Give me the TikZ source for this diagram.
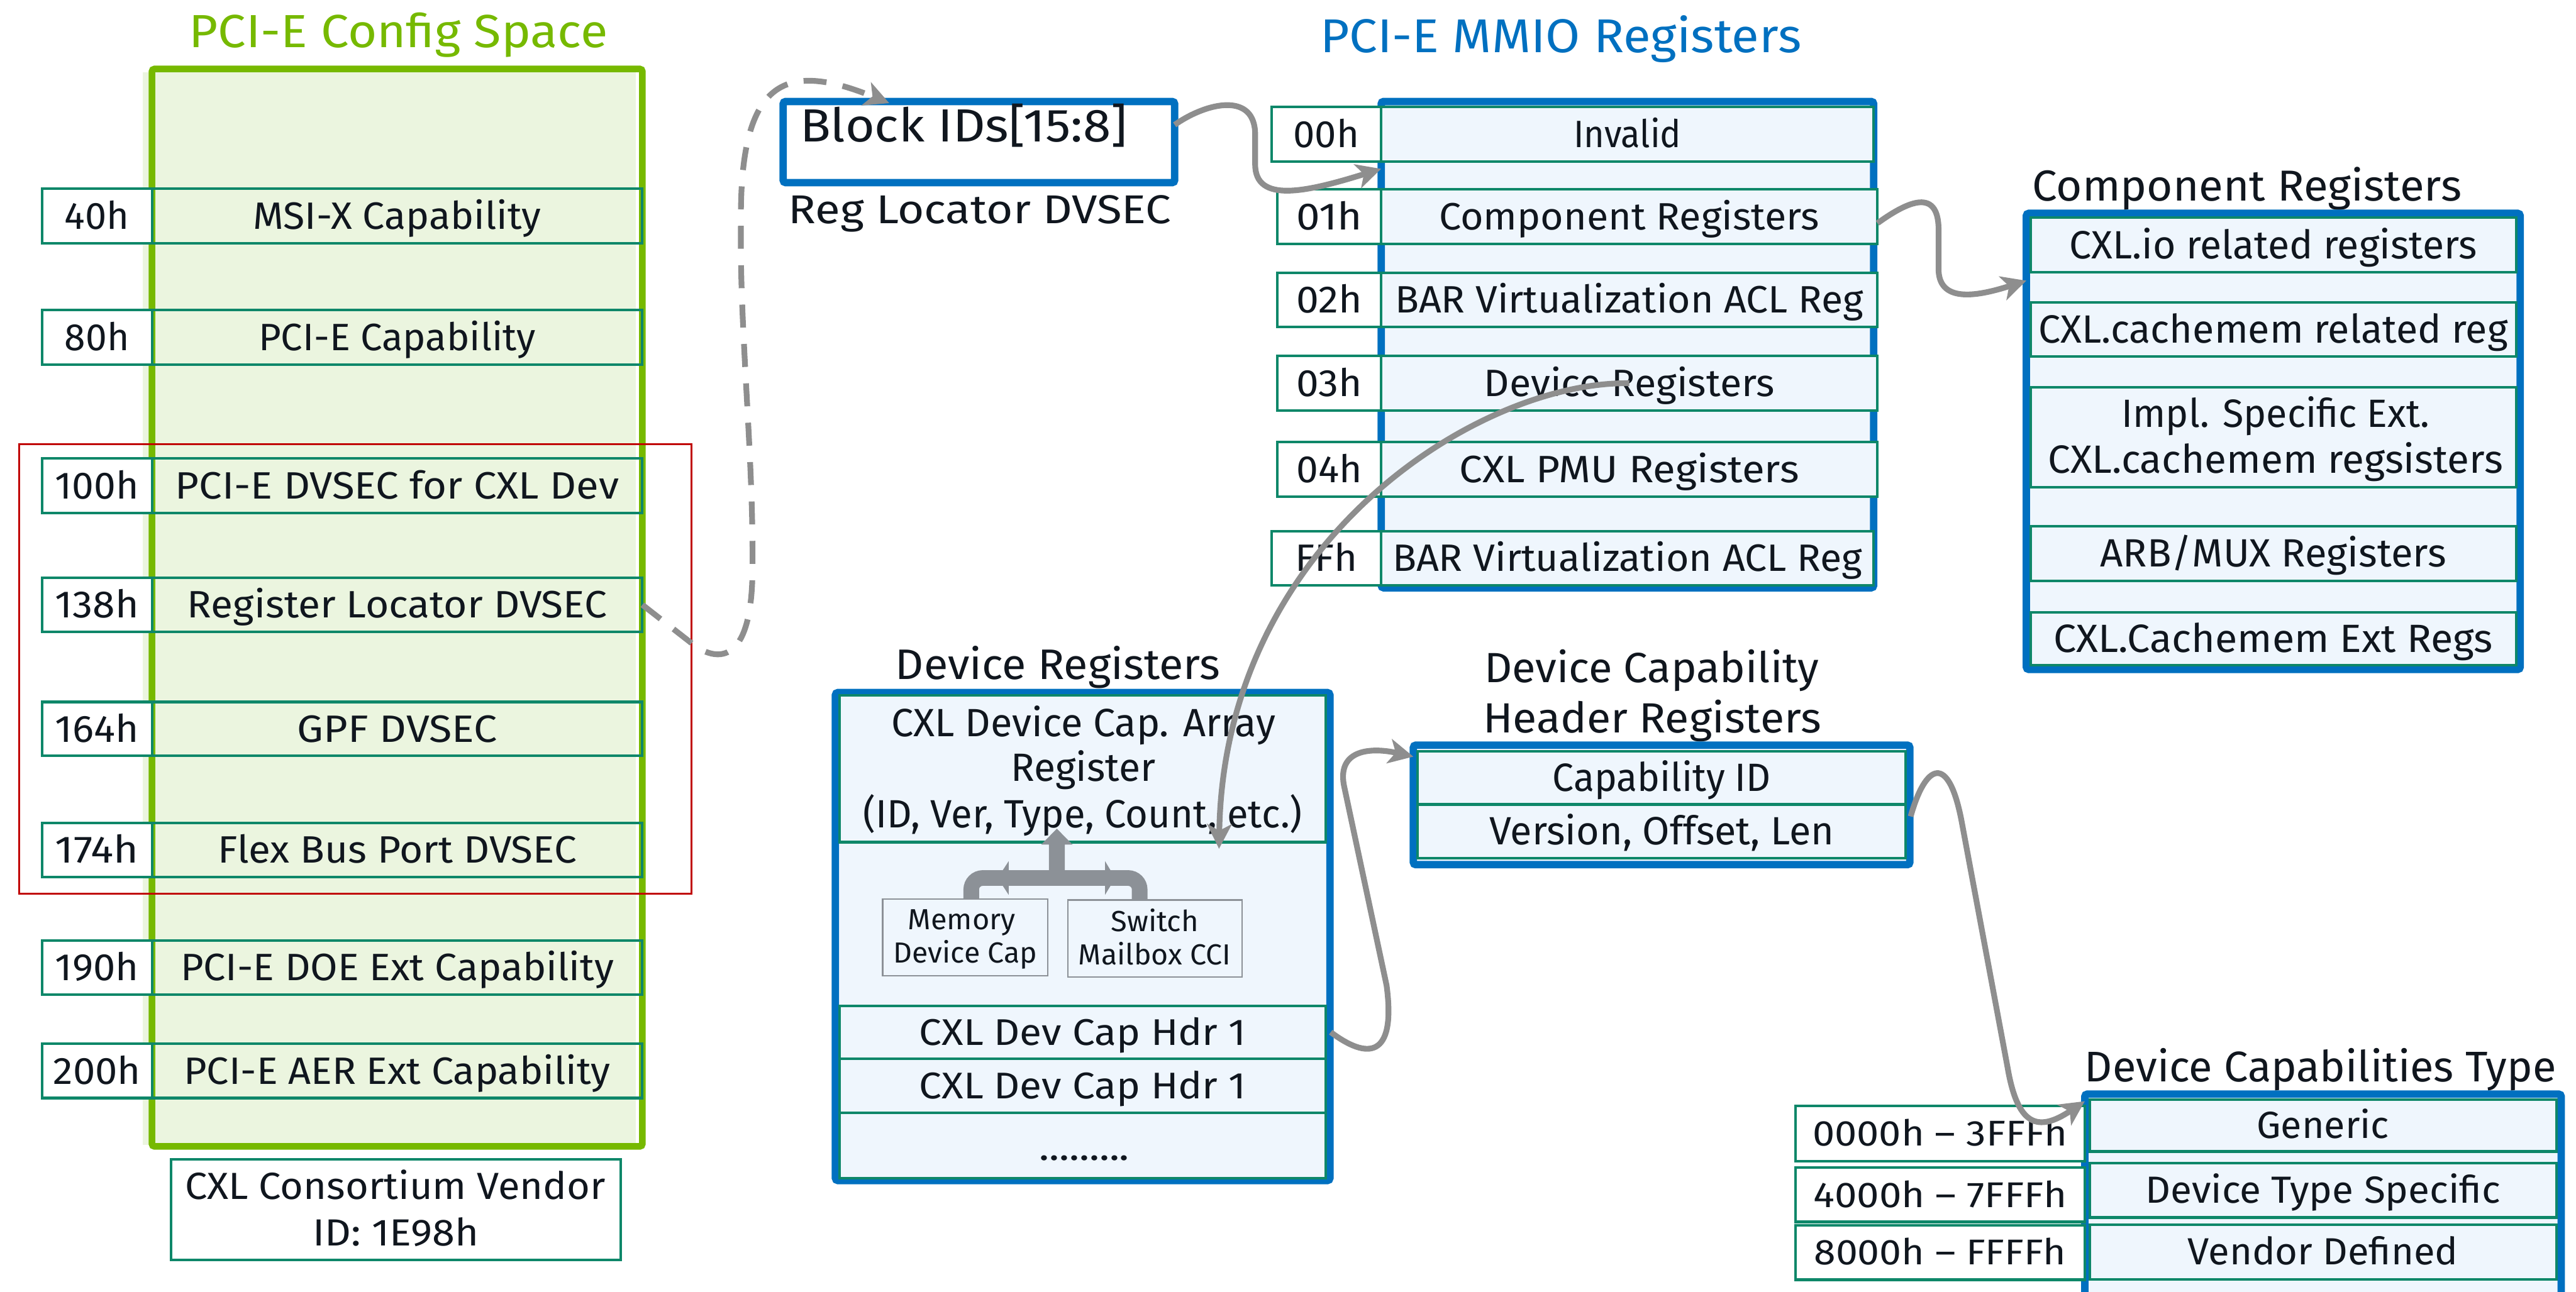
\documentclass[tikz,border=0pt]{standalone}
\usepackage{fontspec}
\usepackage{graphicx}
\setmainfont{Fira Sans}
\usetikzlibrary{arrows.meta,calc}

\definecolor{cfggreen}{RGB}{118,185,0}
\definecolor{cfgfill}{RGB}{235,245,223}
\definecolor{regline}{RGB}{14,135,105}
\definecolor{mmblue}{RGB}{0,112,192}
\definecolor{rowfill}{RGB}{239,246,253}
\definecolor{wire}{RGB}{142,142,142}
\definecolor{barfill}{RGB}{140,145,151}
\definecolor{hilite}{RGB}{192,0,0}
\definecolor{ink}{RGB}{16,22,30}

% font size helper and horizontal fit of a label to a given width
\newcommand\fsz[1]{\fontsize{#1}{#1}\selectfont}
\newcommand\fitw[2]{\resizebox{#1pt}{\height}{#2}}
% rectangular node from its corner coordinates: name, style, x1, y1, x2, y2, text
\newcommand\rbox[7]{\node[#2,minimum width={#5-#3},minimum height={#6-#4}] (#1) at ({(#3+#5)/2},{(#4+#6)/2}) {#7};}

\tikzset{
  every node/.style={inner sep=0pt,outer sep=0pt,text=ink},
  regcell/.style={draw=regline,line width=1.6pt,fill=rowfill},
  cfgcell/.style={draw=regline,line width=1.6pt},
  tagcell/.style={draw=regline,line width=1.6pt,fill=white},
  smallcell/.style={draw=barfill,line width=0.9pt,fill=rowfill},
  outerframe/.style={draw=mmblue,line width=4.5pt,fill=rowfill,rounded corners=1.5pt},
  txtA/.style={font=\fsz{23.2},text height=16pt,text depth=0pt},
  txtB/.style={font=\fsz{24},text height=16.5pt,text depth=0pt},
  txtC/.style={font=\fsz{22.6},text height=15.6pt,text depth=0pt},
  txtD/.style={font=\fsz{23},text height=15.8pt,text depth=0pt},
  txtE/.style={font=\fsz{21.8},text height=15pt,text depth=0pt},
  baseln/.style={anchor=base},
  link/.style={draw=wire,line width=3.5pt,-{Stealth[length=15pt,width=15pt,inset=4pt]}},
}

\begin{document}
\begin{tikzpicture}[x=1pt,y=-1pt]
\useasboundingbox (0,0) rectangle (1568,786.6);

% ---------------- PCI-E configuration space ----------------
\fill[cfgfill] (87,44) rectangle (387,697);
\node[draw=cfggreen,line width=4pt,rounded corners=1.5pt,minimum width=298.5,minimum height=656] (cfg) at (241.75,370) {};
\node[font=\fsz{28.3},text=cfggreen,baseln] (cfgtitle) at (242.5,28.8) {\fitw{255}{PCI-E Config Space}};

\rbox{t40}{tagcell,txtA}{25.6}{114.7}{92.5}{148}{\fitw{39.3}{40h}}
\rbox{c40}{cfgcell,txtA}{92.5}{114.7}{391}{148}{\fitw{175}{MSI-X Capability}}
\rbox{t80}{tagcell,txtA}{25.6}{188.7}{92.5}{222}{\fitw{39.3}{80h}}
\rbox{c80}{cfgcell,txtA}{92.5}{188.7}{391}{222}{\fitw{168.7}{PCI-E Capability}}
\rbox{t100}{tagcell,txtA}{25.6}{279}{92.5}{312.5}{\fitw{50.9}{100h}}
\rbox{c100}{cfgcell,txtA}{92.5}{279}{391}{312.5}{\fitw{269.9}{PCI-E DVSEC for CXL Dev}}
\rbox{t138}{tagcell,txtA}{25.6}{351.8}{92.5}{384.7}{\fitw{50.9}{138h}}
\rbox{c138}{cfgcell,txtA}{92.5}{351.8}{391}{384.7}{\fitw{255.4}{Register Locator DVSEC}}
\rbox{t164}{tagcell,txtA}{25.6}{427.4}{92.5}{460.2}{\fitw{50.9}{164h}}
\rbox{c164}{cfgcell,txtA}{92.5}{427.4}{391}{460.2}{\fitw{121.5}{GPF DVSEC}}
\rbox{t174}{tagcell,txtA}{25.6}{501}{92.5}{534}{\fitw{50.9}{174h}}
\rbox{c174}{cfgcell,txtA}{92.5}{501}{391}{534}{\fitw{218.4}{Flex Bus Port DVSEC}}
\rbox{t190}{tagcell,txtA}{25.6}{572.7}{92.5}{605.5}{\fitw{50.9}{190h}}
\rbox{c190}{cfgcell,txtA}{92.5}{572.7}{391}{605.5}{\fitw{263.7}{PCI-E DOE Ext Capability}}
\rbox{t200}{tagcell,txtA}{25.6}{635.4}{92.5}{668.6}{\fitw{53.3}{200h}}
\rbox{c200}{cfgcell,txtA}{92.5}{635.4}{391}{668.6}{\fitw{259.7}{PCI-E AER Ext Capability}}

\rbox{vid}{tagcell}{104}{706}{377.7}{767}{}
\node[font=\fsz{23},baseln] (vid1) at (240.6,730.3) {\fitw{256}{CXL Consortium Vendor}};
\node[font=\fsz{23},baseln] (vid2) at (240.9,758.4) {\fitw{101}{ID: 1E98h}};

% CXL DVSEC group
\node[draw=hilite,line width=1.2pt,minimum width=409.3,minimum height=273.5] (dvsecs) at (216.35,407.25) {};

% ---------------- Register locator ----------------
\node[draw=mmblue,line width=4.5pt,fill=white,rounded corners=1.5pt,minimum width=238.3,minimum height=49.4] (blk) at (595.85,86.5) {};
\node[font=\fsz{28.3},anchor=base west] (blktxt) at (487,86.5) {\fitw{199}{Block IDs[15:8]}};
\node[font=\fsz{24.5},anchor=base west] (rlname) at (479.9,136) {\fitw{233}{Reg Locator DVSEC}};

% ---------------- PCI-E MMIO registers ----------------
\node[font=\fsz{28.9},text=mmblue,baseln] (mmtitle) at (950,32) {\fitw{292.9}{PCI-E MMIO Registers}};
\node[outerframe,minimum width=299.8,minimum height=296.1] (mmio) at (990.6,209.85) {};
\rbox{m00t}{tagcell,txtA}{774}{65}{840.7}{98.3}{\fitw{40.1}{00h}}
\rbox{m00}{regcell,txtA}{840.7}{65}{1140.5}{98.3}{\fitw{65.5}{Invalid}}
\rbox{m01t}{tagcell,txtA}{777.5}{115.2}{840.7}{148.6}{\fitw{40}{01h}}
\rbox{m01}{regcell,txtA}{840.7}{115.2}{1142.8}{148.6}{\fitw{231.6}{Component Registers}}
\rbox{m02t}{tagcell,txtA}{777.5}{166}{840.7}{199.2}{\fitw{40}{02h}}
\rbox{m02}{regcell,txtA}{840.7}{166}{1142.8}{199.2}{\fitw{285.1}{BAR Virtualization ACL Reg}}
\rbox{m03t}{tagcell,txtA}{777.5}{216.7}{840.7}{250}{\fitw{40}{03h}}
\rbox{m03}{regcell,txtA}{840.7}{216.7}{1142.8}{250}{\fitw{176.9}{Device Registers}}
\rbox{m04t}{tagcell,txtA}{777.5}{269}{840.7}{302.4}{\fitw{40}{04h}}
\rbox{m04}{regcell,txtA}{840.7}{269}{1142.8}{302.4}{\fitw{206.7}{CXL PMU Registers}}
\rbox{mfft}{tagcell,txtA}{774}{323.4}{840.7}{356.3}{\fitw{37.8}{FFh}}
\rbox{mff}{regcell,txtA}{840.7}{323.4}{1140.5}{356.3}{\fitw{286}{BAR Virtualization ACL Reg}}

% ---------------- Component registers ----------------
\node[font=\fsz{26.4},anchor=base west] (cmptitle) at (1237,122.4) {\fitw{261.4}{Component Registers}};
\node[outerframe,minimum width=300.6,minimum height=277.7] (cmp) at (1383.7,268.75) {};
\rbox{k1}{regcell,txtB}{1236}{132.6}{1531.5}{165.6}{\fitw{248}{CXL.io related registers}}
\rbox{k2}{regcell,txtB}{1236}{184}{1531.5}{217}{\fitw{285.5}{CXL.cachemem related reg}}
\rbox{k3}{regcell}{1236}{235.9}{1531.5}{296.8}{}
\node[font=\fsz{24},baseln] (k3a) at (1385.1,260) {\fitw{187.4}{Impl. Specific Ext.}};
\node[font=\fsz{24},baseln] (k3b) at (1385.1,287.9) {\fitw{277}{CXL.cachemem regsisters}};
\rbox{k4}{regcell,txtB}{1236}{320.4}{1531.5}{353.6}{\fitw{210.6}{ARB/MUX Registers}}
\rbox{k5}{regcell,txtB}{1236}{372.9}{1531.5}{405}{\fitw{267.3}{CXL.Cachemem Ext Regs}}

% ---------------- Device registers ----------------
\node[font=\fsz{26},anchor=base west] (devtitle) at (545.1,413.7) {\fitw{197.7}{Device Registers}};
\node[outerframe,minimum width=301,minimum height=297.1] (dev) at (659,570.25) {};
\rbox{dr1}{regcell}{511}{423.3}{807}{512.8}{}
\node[font=\fsz{24},baseln] (dr1a) at (659.5,448.3) {\fitw{233.8}{CXL Device Cap. Array}};
\node[font=\fsz{24},baseln] (dr1b) at (659.3,475.7) {\fitw{88}{Register}};
\node[font=\fsz{24},baseln] (dr1c) at (659,504) {\fitw{267.4}{(ID, Ver, Type, Count, etc.)}};
\rbox{dh1}{regcell,txtC}{511}{612.4}{807}{644.5}{\fitw{198.8}{CXL Dev Cap Hdr 1}}
\rbox{dh2}{regcell,txtC}{511}{644.5}{807}{677.7}{\fitw{198.8}{CXL Dev Cap Hdr 1}}
\rbox{dh3}{regcell}{511}{677.7}{807}{717.3}{}
\node[font=\fsz{22.6},baseln] (dots) at (660,706.6) {\fitw{55}{.........}};

\rbox{mdc}{smallcell}{537.3}{547.5}{637.7}{594.2}{}
\node[font=\fsz{17.7},baseln] (mdc1) at (585.4,566.1) {\fitw{65.5}{Memory}};
\node[font=\fsz{17.7},baseln] (mdc2) at (587.6,586.4) {\fitw{87.5}{Device Cap}};
\rbox{smb}{smallcell}{650}{548}{756}{595}{}
\node[font=\fsz{17.7},baseln] (smb1) at (703,567.2) {\fitw{53.3}{Switch}};
\node[font=\fsz{17.7},baseln] (smb2) at (702.9,587.5) {\fitw{92.8}{Mailbox CCI}};

% block arrow joining both capabilities to the array register
\draw[barfill,line width=9.5pt,rounded corners=7pt] ([xshift=3.7pt]mdc.north) -- (591.2,534.6) -- (693.7,534.6) -- ([xshift=-9.3pt]smb.north);
\fill[barfill] (638.5,535) -- (638.5,514.3) -- (633.7,514.3) -- (643.3,504.6) -- (652.9,514.3) -- (648.1,514.3) -- (648.1,535) -- cycle;
\fill[barfill] (607.3,534.6) -- (614,524.3) -- (614,544.9) -- cycle;
\fill[barfill] (678.8,534.6) -- (672.6,524.3) -- (672.6,544.9) -- cycle;

% ---------------- Device capability header registers ----------------
\node[font=\fsz{25.7},baseln] (chtitle1) at (1005.4,415.4) {\fitw{203.8}{Device Capability}};
\node[font=\fsz{25.7},baseln] (chtitle2) at (1005.6,446.3) {\fitw{205.8}{Header Registers}};
\node[outerframe,minimum width=302.2,minimum height=72.8] (chd) at (1011.4,490.1) {};
\rbox{ch1}{regcell,txtB}{863}{457.6}{1160}{489.8}{\fitw{132.9}{Capability ID}}
\rbox{ch2}{regcell,txtB}{863}{489.8}{1160}{522.4}{\fitw{209.8}{Version, Offset, Len}}

% ---------------- Device capabilities type ----------------
\node[font=\fsz{26.1},anchor=base west] (dcttitle) at (1269,658.5) {\fitw{287}{Device Capabilities Type}};
\node[outerframe,minimum width=290,minimum height=130] (dct) at (1414,731.2) {};
\rbox{d1}{regcell,txtD}{1272}{669.4}{1556}{701.1}{\fitw{80.6}{Generic}}
\rbox{d2}{regcell,txtD}{1272}{708.2}{1556}{741.3}{\fitw{216.2}{Device Type Specific}}
\rbox{d3}{regcell,txtD}{1272}{745.6}{1556}{778.9}{\fitw{164.6}{Vendor Defined}}
\rbox{r1}{tagcell,txtE}{1092.8}{673.4}{1269}{707}{\fitw{155.1}{0000h – 3FFFh}}
\rbox{r2}{tagcell,txtE}{1092.8}{711}{1269}{744}{\fitw{154.2}{4000h – 7FFFh}}
\rbox{r3}{tagcell,txtE}{1092.8}{746.2}{1269}{779.2}{\fitw{153.3}{8000h – FFFFh}}

% ---------------- Connectors ----------------
\draw[link,dash pattern=on 14pt off 10pt] (c138.east) -- (424,394)
  .. controls (440,404) and (457,400) .. (458,350)
  .. controls (459,280) and (450,200) .. (451,136)
  .. controls (450,45) and (480,38) .. ([xshift=64.6pt,yshift=-1pt]blk.north west);
\draw[link] ([yshift=10.5pt]blk.east) .. controls (735,62) and (764,56) .. (764,82)
  -- (764,100) .. controls (764,124) and (795,117) .. ([yshift=-41pt]mmio.north west);
\draw[link] ([yshift=-4pt]m01.east) .. controls (1158,125) and (1180,112) .. (1180,140)
  -- (1180,165) .. controls (1181,185) and (1205,180) .. ([yshift=-41pt]cmp.north west);
\draw[link] (m03.center) .. controls (900,232) and (745,330) .. ([xshift=83pt,yshift=-4pt]dr1.south);
\draw[link] ([xshift=3pt]dh1.east) .. controls (832,645) and (850,645) .. (844,600)
  -- (818,478) .. controls (814,456) and (835,455) .. ([yshift=-7pt]chd.north west);
\draw[link] ([xshift=3pt,yshift=9pt]ch2.east) .. controls (1172,465) and (1186,458) .. (1194,500)
  -- (1222,650) .. controls (1228,685) and (1240,690) .. ([yshift=-4.3pt]dct.north west);
\end{tikzpicture}
\end{document}
